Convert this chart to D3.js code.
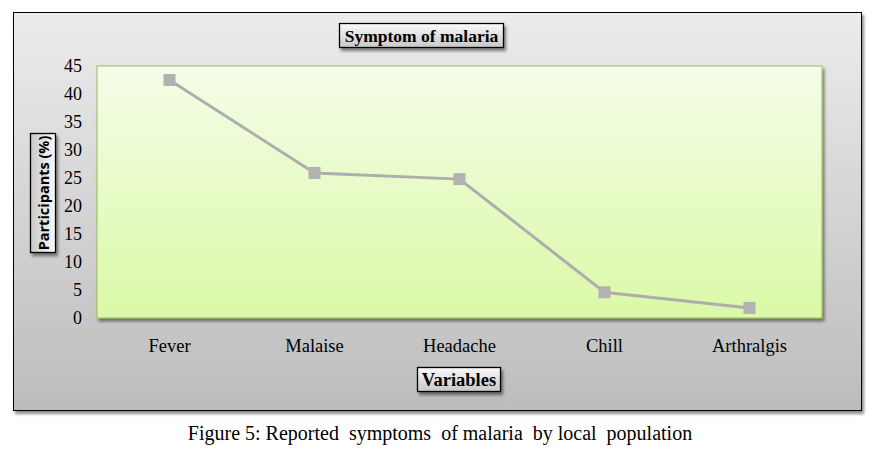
<!DOCTYPE html>
<html>
<head>
<meta charset="utf-8">
<script src="https://cdn.jsdelivr.net/npm/d3@7"></script>
<style>
  body { margin: 0; background: #fff; }
  svg { display: block; }
</style>
</head>
<body>
<script>
// data
const categories = ["Fever", "Malaise", "Headache", "Chill", "Arthralgis"];
const participants = [42.5, 25.9, 24.8, 4.6, 1.8];
const yTicks = [0, 5, 10, 15, 20, 25, 30, 35, 40, 45];

const width = 884;
const height = 456;
const plot = { left: 97, right: 822, top: 66, bottom: 318 };
const serif = "'Liberation Serif', 'DejaVu Serif', serif";

const svg = d3.select("body")
    .append("svg")
    .attr("width", width)
    .attr("height", height);

const defs = svg.append("defs");

// gradients
const outerGrad = defs.append("linearGradient")
    .attr("id", "outerGrad").attr("x1", 0).attr("y1", 0).attr("x2", 0).attr("y2", 1);
outerGrad.append("stop").attr("offset", "0%").attr("stop-color", "#ececec");
outerGrad.append("stop").attr("offset", "100%").attr("stop-color", "#bcbcbc");

const plotGrad = defs.append("linearGradient")
    .attr("id", "plotGrad").attr("x1", 0).attr("y1", 0).attr("x2", 0).attr("y2", 1);
plotGrad.append("stop").attr("offset", "0%").attr("stop-color", "#f4fde8");
plotGrad.append("stop").attr("offset", "100%").attr("stop-color", "#dbf9a6");

const boxGrad = defs.append("linearGradient")
    .attr("id", "boxGrad").attr("x1", 0).attr("y1", 0).attr("x2", 0).attr("y2", 1);
boxGrad.append("stop").attr("offset", "0%").attr("stop-color", "#fafafa");
boxGrad.append("stop").attr("offset", "100%").attr("stop-color", "#c8c8c8");

const boxGradH = defs.append("linearGradient")
    .attr("id", "boxGradH").attr("x1", 1).attr("y1", 0).attr("x2", 0).attr("y2", 0);
boxGradH.append("stop").attr("offset", "0%").attr("stop-color", "#fafafa");
boxGradH.append("stop").attr("offset", "100%").attr("stop-color", "#c8c8c8");

const shadow = defs.append("filter").attr("id", "shadow")
    .attr("x", "-10%").attr("y", "-10%").attr("width", "130%").attr("height", "140%");
shadow.append("feDropShadow")
    .attr("dx", 2).attr("dy", 3).attr("stdDeviation", 1.5)
    .attr("flood-color", "#000").attr("flood-opacity", 0.45);

// outer chart frame
svg.append("rect")
    .attr("x", 13.5).attr("y", 12.5)
    .attr("width", 848).attr("height", 398)
    .attr("fill", "url(#outerGrad)")
    .attr("stroke", "#000").attr("stroke-width", 1)
    .attr("filter", "url(#shadow)");

// scales
const xScale = d3.scaleBand()
    .domain(categories)
    .range([plot.left, plot.right]);

const yScale = d3.scaleLinear()
    .domain([0, 45])
    .range([plot.bottom, plot.top]);

// plot area
svg.append("rect")
    .attr("x", plot.left).attr("y", plot.top)
    .attr("width", plot.right - plot.left).attr("height", plot.bottom - plot.top)
    .attr("fill", "url(#plotGrad)")
    .attr("stroke", "#9bbb59").attr("stroke-width", 1)
    .attr("filter", "url(#shadow)");

// left axis (labels only)
const leftAxis = d3.axisLeft(yScale).tickValues(yTicks).tickSize(0).tickPadding(15);
const gy = svg.append("g")
    .attr("transform", "translate(" + plot.left + ",0)")
    .call(leftAxis);
gy.select(".domain").remove();
gy.selectAll("text")
    .attr("font-family", serif).attr("font-size", 18).attr("fill", "#000");

// bottom axis (labels only)
const bottomAxis = d3.axisBottom(xScale).tickSize(0).tickPadding(21);
const gx = svg.append("g")
    .attr("transform", "translate(0," + plot.bottom + ")")
    .call(bottomAxis);
gx.select(".domain").remove();
gx.selectAll("text")
    .attr("font-family", serif).attr("font-size", 18.5).attr("fill", "#000");

// line
const line = d3.line()
    .x((d, i) => xScale(categories[i]) + xScale.bandwidth() / 2)
    .y(d => yScale(d));

svg.append("path")
    .datum(participants)
    .attr("d", line)
    .attr("fill", "none")
    .attr("stroke", "#aeaeae")
    .attr("stroke-width", 3);

// markers
const ms = 12;
svg.selectAll("rect.marker")
    .data(participants)
    .enter()
    .append("rect")
    .attr("class", "marker")
    .attr("x", (d, i) => xScale(categories[i]) + xScale.bandwidth() / 2 - ms / 2)
    .attr("y", d => yScale(d) - ms / 2)
    .attr("width", ms).attr("height", ms)
    .attr("fill", "#b2b2b2");

// labelled boxes
function labelBox(x, y, w, h, grad) {
    svg.append("rect")
        .attr("x", x).attr("y", y).attr("width", w).attr("height", h)
        .attr("fill", grad)
        .attr("stroke", "#000").attr("stroke-width", 1.3)
        .attr("filter", "url(#shadow)");
}

// chart title
labelBox(339.5, 23.5, 164, 24, "url(#boxGrad)");
svg.append("text")
    .attr("x", 421.5).attr("y", 41.5)
    .attr("text-anchor", "middle")
    .attr("font-family", serif).attr("font-weight", "bold").attr("font-size", 17.5)
    .text("Symptom of malaria");

// x axis title
labelBox(417.5, 367.5, 83, 24, "url(#boxGrad)");
svg.append("text")
    .attr("x", 459).attr("y", 386)
    .attr("text-anchor", "middle")
    .attr("font-family", serif).attr("font-weight", "bold").attr("font-size", 18.5)
    .text("Variables");

// y axis title
labelBox(30.5, 133.5, 25, 119, "url(#boxGradH)");
svg.append("text")
    .attr("transform", "translate(48.5,193) rotate(-90)")
    .attr("text-anchor", "middle")
    .attr("font-family", "'Open Sans', 'Liberation Sans', sans-serif")
    .attr("font-weight", "bold").attr("font-size", 14.5)
    .text("Participants (%)");

// caption
svg.append("text")
    .attr("x", 440).attr("y", 440)
    .attr("text-anchor", "middle")
    .attr("font-family", serif).attr("font-size", 20)
    .attr("xml:space", "preserve")
    .text("Figure 5: Reported  symptoms  of malaria  by local  population");
</script>
</body>
</html>
